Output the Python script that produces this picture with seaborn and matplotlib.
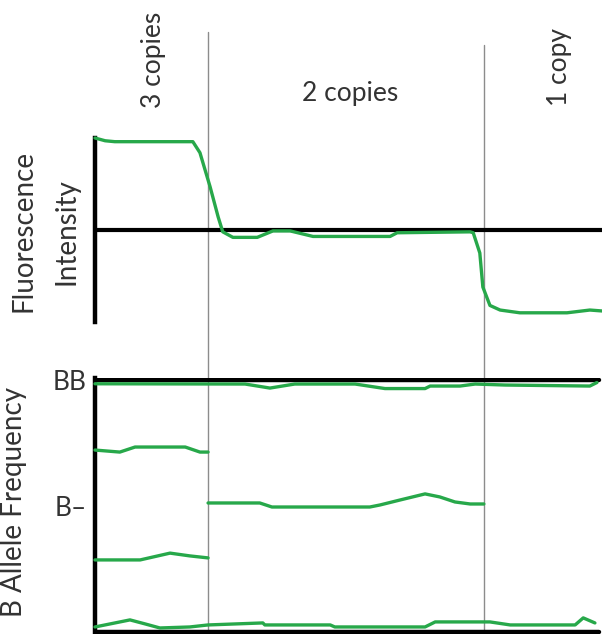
import numpy as np
import pandas as pd
import matplotlib
matplotlib.use("Agg")
import matplotlib.pyplot as plt
import seaborn as sns

sns.set_style("white")
plt.rcParams['font.family'] = ['Lato', 'DejaVu Sans']

# ---- data (genomic position 0..100) ----
# fluorescence intensity (log-ratio like, 0 = 2 copies)
fi_pos = [0.0, 2.0, 3.9, 19.3, 20.7, 22.7, 24.3, 25.2, 27.2, 32.0, 35.1, 38.5, 43.0,
          58.2, 59.6, 74.0, 74.6, 75.9, 76.5, 77.9, 79.9, 83.8, 93.1, 97.6, 100.0]
fi_val = [1.00, 0.97, 0.96, 0.96, 0.84, 0.47, 0.14, -0.02, -0.08, -0.08, -0.01, -0.01, -0.07,
          -0.07, -0.03, -0.02, -0.03, -0.25, -0.62, -0.82, -0.87, -0.90, -0.90, -0.87, -0.88]

# B allele frequency tracks
bb_pos = [0.0, 29.6, 34.5, 39.4, 51.3, 57.2, 65.1, 66.1, 72.0, 75.0, 80.9, 97.6, 99.0]
bb_val = [0.985, 0.984, 0.968, 0.984, 0.984, 0.966, 0.966, 0.976, 0.976, 0.984, 0.98, 0.976, 0.99]

hi3_pos = [0.0, 4.9, 7.9, 17.8, 20.7, 22.3]
hi3_val = [0.722, 0.714, 0.734, 0.734, 0.714, 0.714]

lo3_pos = [0.0, 8.9, 14.8, 18.7, 22.3]
lo3_val = [0.286, 0.286, 0.313, 0.302, 0.294]

het2_pos = [22.3, 32.5, 34.9, 54.2, 56.2, 60.2, 65.1, 68.0, 71.0, 74.0, 76.7]
het2_val = [0.512, 0.512, 0.496, 0.496, 0.504, 0.524, 0.548, 0.536, 0.516, 0.508, 0.508]

aa_pos = [0.0, 6.9, 9.9, 12.8, 18.7, 22.3, 33.1, 33.5, 46.4, 47.3, 65.1, 67.1, 77.9,
          81.9, 94.7, 96.3, 98.6]
aa_val = [0.02, 0.048, 0.032, 0.016, 0.02, 0.028, 0.036, 0.028, 0.028, 0.02, 0.02, 0.04, 0.04,
          0.028, 0.028, 0.056, 0.036]

boundaries = [22.3, 76.7]
copy_labels = ["3 copies", "2 copies", "1 copy"]
baf_ticks = [1.0, 0.5]
baf_ticklabels = ["BB", "B\u2013"]

GREEN = "#27a84a"
W, H = 602, 634

fig = plt.figure(figsize=(W / 100, H / 100), dpi=100)

def fx(px):
    return px / W

def fy(py):
    return 1 - py / H

# background axes for the copy-number boundaries
bg = fig.add_axes([fx(95), 0, fx(507), 1])
bg.set_xlim(0, 100)
bg.set_ylim(0, 1)
bg.axis("off")
bg.axvline(boundaries[0], ymin=0, ymax=fy(32), color="#8c8c8c", lw=1.0)
bg.axvline(boundaries[1], ymin=0, ymax=fy(45), color="#8c8c8c", lw=1.0)

# top panel: fluorescence intensity
ax1 = fig.add_axes([fx(95), fy(322), fx(507), (322 - 138) / H])
ax1.patch.set_alpha(0)
fi_df = pd.DataFrame({"pos": fi_pos, "val": fi_val})
ax1.axhline(0, color="black", lw=3, zorder=1)
sns.lineplot(data=fi_df, x="pos", y="val", sort=False, estimator=None,
             color=GREEN, lw=2.4, ax=ax1, zorder=3, clip_on=False)
ax1.set_xlim(0, 100)
ax1.set_ylim(-1, 1)
for s in ["top", "right", "bottom"]:
    ax1.spines[s].set_visible(False)
ax1.spines["left"].set_linewidth(3.2)
ax1.spines["left"].set_color("black")
ax1.set_xticks([])
ax1.set_yticks([])
ax1.set_xlabel("")
ax1.set_ylabel("")

# bottom panel: B allele frequency
ax2 = fig.add_axes([fx(95), 0, fx(507), (634 - 378) / H])
ax2.patch.set_alpha(0)
segs = []
for name, p, v in [("bb", bb_pos, bb_val), ("hi3", hi3_pos, hi3_val), ("lo3", lo3_pos, lo3_val),
                   ("het2", het2_pos, het2_val), ("aa", aa_pos, aa_val)]:
    segs.append(pd.DataFrame({"pos": p, "val": v, "seg": name}))
baf_df = pd.concat(segs, ignore_index=True)
ax2.axhline(1.0, xmin=0, xmax=(599 - 95) / 507, color="black", lw=3.2, zorder=1)
ax2.axhline(0.0, xmin=0, xmax=(599 - 95) / 507, color="black", lw=3.2, zorder=1)
sns.lineplot(data=baf_df, x="pos", y="val", units="seg", sort=False, estimator=None,
             color=GREEN, lw=2.4, ax=ax2, zorder=3, clip_on=False)
ax2.set_xlim(0, 100)
ax2.set_ylim((632 - 634) / 252, (632 - 378) / 252)
for s in ["top", "right", "bottom"]:
    ax2.spines[s].set_visible(False)
ax2.spines["left"].set_linewidth(3.2)
ax2.spines["left"].set_color("black")
ax2.set_xticks([])
ax2.set_yticks(baf_ticks)
ax2.set_yticklabels(baf_ticklabels, fontsize=19, color="#333333")
ax2.tick_params(axis="y", length=0, pad=6)
ax2.set_xlabel("")
ax2.set_ylabel("")

TXT = "#333333"
FS = 19
fig.text(fx(154), fy(60), copy_labels[0], rotation=90, ha="center", va="center", fontsize=FS, color=TXT)
fig.text(fx(350), fy(93), copy_labels[1], ha="center", va="center", fontsize=FS, color=TXT)
fig.text(fx(560), fy(67), copy_labels[2], rotation=90, ha="center", va="center", fontsize=FS, color=TXT)
fig.text(fx(24), fy(231), "Fluorescence", rotation=90, ha="center", va="center", fontsize=FS + 1, color=TXT)
fig.text(fx(66), fy(232), "Intensity", rotation=90, ha="center", va="center", fontsize=FS + 1, color=TXT)
fig.text(fx(14), fy(502), "B Allele Frequency", rotation=90, ha="center", va="center", fontsize=FS + 1, color=TXT)

fig.savefig("out.png", dpi=100)
